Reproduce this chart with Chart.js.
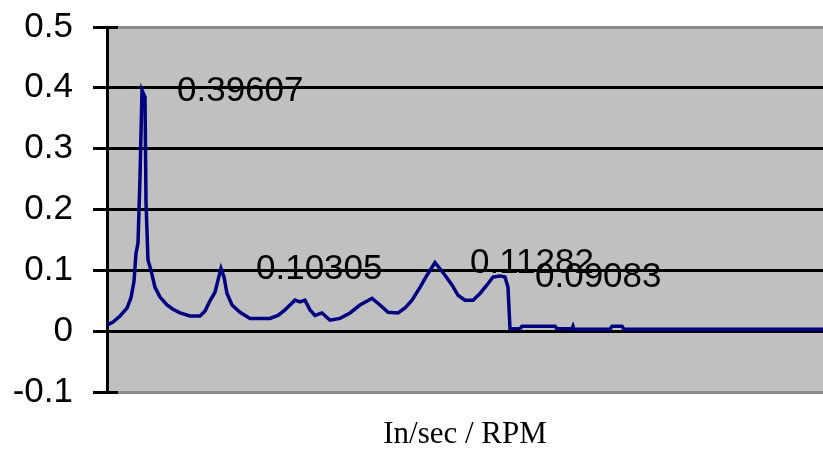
<!DOCTYPE html>
<html>
<head>
<meta charset="utf-8">
<script src="https://cdn.jsdelivr.net/npm/chart.js@4"></script>
<style>
  html, body { margin: 0; padding: 0; background: #ffffff; }
  #c { display: block; }
</style>
</head>
<body>
<canvas id="c" width="823" height="453"></canvas>
<script>
// Spectrum bins (horizontal position) and amplitude (In/sec)
const bins = [0, 6, 13, 20, 24, 27, 29, 31, 33, 35, 38, 39, 41, 44, 48, 53, 60, 66, 73, 83,
  93, 98, 103, 108, 111, 114, 117, 120, 125, 133, 143, 153, 163, 171, 178, 183, 188, 193, 198, 203,
  208, 215, 223, 233, 243, 253, 265, 273, 281, 291, 298, 305, 313, 320, 328, 338, 345, 351, 358, 366,
  373, 380, 386, 393, 398, 401, 403, 413, 415, 448, 450, 465, 466, 467, 503, 505, 515, 517, 716];
const amplitude = [0.010, 0.015, 0.025, 0.038, 0.055, 0.082, 0.128, 0.145, 0.253, 0.39607, 0.385, 0.212, 0.117, 0.100, 0.072, 0.056, 0.043, 0.036, 0.030, 0.025,
  0.025, 0.033, 0.050, 0.064, 0.084, 0.10305, 0.089, 0.062, 0.043, 0.031, 0.021, 0.021, 0.021, 0.026, 0.035, 0.043, 0.051, 0.048, 0.051, 0.035,
  0.026, 0.030, 0.018, 0.021, 0.030, 0.043, 0.054, 0.043, 0.031, 0.030, 0.038, 0.051, 0.072, 0.092, 0.11282, 0.092, 0.076, 0.059, 0.051, 0.051,
  0.062, 0.076, 0.089, 0.09083, 0.089, 0.072, 0.004, 0.004, 0.008, 0.008, 0.004, 0.004, 0.008, 0.003, 0.003, 0.008, 0.008, 0.003, 0.003];
// Peaks that carry a data label
const labeledValues = [0.39607, 0.10305, 0.11282, 0.09083];
// Y axis tick values
const yTicks = [-0.1, 0, 0.1, 0.2, 0.3, 0.4, 0.5];
const xTitle = 'In/sec / RPM';

const points = bins.map((b, i) => ({ x: b, y: amplitude[i] }));
const near = (a, b) => Math.abs(a - b) < 1e-9;

const bgPlugin = {
  id: 'bg',
  beforeDraw(chart) {
    const { ctx, chartArea: a } = chart;
    ctx.save();
    ctx.fillStyle = '#ffffff';
    ctx.fillRect(0, 0, chart.width, chart.height);
    ctx.fillStyle = '#c0c0c0';
    ctx.fillRect(a.left, a.top, a.right - a.left, a.bottom - a.top);
    ctx.restore();
  },
  afterDraw(chart) {
    const { ctx, chartArea: a } = chart;
    ctx.save();
    ctx.strokeStyle = '#000';
    ctx.lineWidth = 3;
    [a.top, a.bottom].forEach(y => {
      ctx.beginPath();
      ctx.moveTo(a.left, Math.round(y) + 0.5);
      ctx.lineTo(a.left + 11, Math.round(y) + 0.5);
      ctx.stroke();
    });
    ctx.restore();
  }
};

const labelPlugin = {
  id: 'peakLabels',
  afterDatasetsDraw(chart) {
    const { ctx } = chart;
    const meta = chart.getDatasetMeta(0);
    ctx.save();
    ctx.font = "35px 'Liberation Sans', Arial, sans-serif";
    ctx.fillStyle = '#000';
    ctx.textAlign = 'left';
    ctx.textBaseline = 'middle';
    labeledValues.forEach(v => {
      const idx = amplitude.findIndex(a => near(a, v));
      if (idx < 0) return;
      const el = meta.data[idx];
      ctx.fillText(String(v), el.x + 35, el.y + 1);
    });
    ctx.restore();
  }
};

new Chart(document.getElementById('c'), {
  type: 'line',
  data: {
    datasets: [{
      data: points,
      borderColor: '#000080',
      borderWidth: 3.5,
      pointRadius: 0,
      tension: 0,
      fill: false
    }]
  },
  options: {
    responsive: false,
    animation: false,
    devicePixelRatio: 1,
    layout: { padding: { top: 27, right: 0, left: 0, bottom: 0 } },
    plugins: { legend: { display: false }, tooltip: { enabled: false } },
    scales: {
      x: {
        type: 'linear',
        min: 0,
        max: 716,
        ticks: { display: false },
        grid: { display: false, drawTicks: false },
        border: { display: false },
        title: {
          display: true,
          text: xTitle,
          color: '#000',
          font: { family: "'Liberation Serif', 'Times New Roman', serif", size: 31 },
          padding: { top: 0, bottom: 0 }
        },
        afterFit(scale) { scale.height = 61; scale.paddingLeft = 0; scale.paddingRight = 0; }
      },
      y: {
        min: -0.1,
        max: 0.5,
        afterBuildTicks(scale) { scale.ticks = yTicks.map(v => ({ value: v })); },
        ticks: {
          color: '#000',
          padding: 20,
          font: { family: "'Liberation Sans', Arial, sans-serif", size: 35 },
          callback: (v) => String(Math.round(v * 10) / 10)
        },
        grid: {
          color: (c) => (c.tick && (near(c.tick.value, 0.5) || near(c.tick.value, -0.1))) ? '#8c8c8c' : '#000',
          lineWidth: 3,
          tickColor: '#000',
          tickWidth: 3,
          tickLength: 14,
          drawTicks: true
        },
        border: { display: true, color: '#000', width: 3 },
        afterFit(scale) { scale.width = 107; scale.paddingTop = 0; scale.paddingBottom = 0; }
      }
    }
  },
  plugins: [bgPlugin, labelPlugin]
});
</script>
</body>
</html>
